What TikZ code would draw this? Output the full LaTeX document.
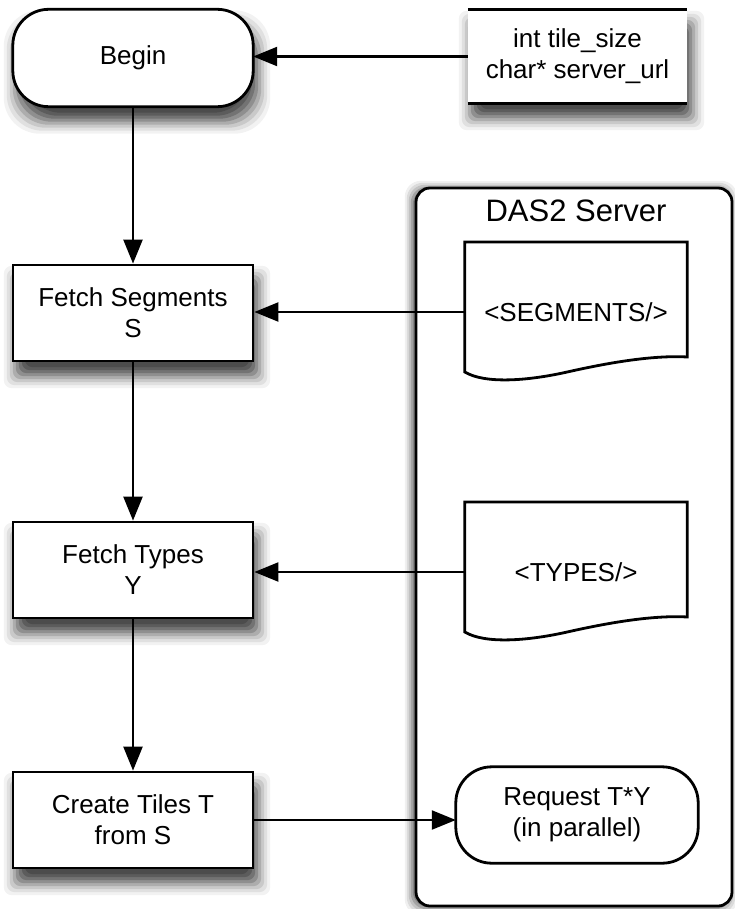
\documentclass[tikz,border=0pt]{standalone}
\usepackage{fontspec}
\setmainfont{Liberation Sans}
\usetikzlibrary{arrows.meta,calc}
\tikzset{
  txt/.style={font=\fontsize{26}{31}\selectfont, align=center},
  procbox/.style={txt, draw, line width=2.8pt, fill=white, minimum width=240pt, minimum height=96pt},
  ghost/.style={txt, draw=none, inner sep=0pt},
  shapeline/.style={line width=2.8pt, fill=white},
  arr/.style={line width=2.3pt, -{Triangle[length=24pt,width=19pt,fill=black]}},
}
% opaque layered shadow under a node: #1 node, #2 x offset, #3 y offset (down), #4 corner radius
\newcommand\mshadow[4]{%
  \foreach \ee/\cc in {13/5,10/12,7/21,4/32,1/44,-2/55,-5/64,-8/70}{%
    \fill[black!\cc, rounded corners=#4]
      ($(#1.north west)+(#2-\ee,#3-\ee)$) rectangle ($(#1.south east)+(#2+\ee,#3+\ee)$);}}
\newcommand\docpath[1]{%
  \path[shapeline,draw]
    (#1.north west) -- (#1.north east) -- ($(#1.north east)+(0,115)$)
    .. controls ($(#1.north east)+(-35,-2+115)$) and ($(#1.north east)+(-80,6+115)$) .. ($(#1.north east)+(-120,15+115)$)
    .. controls ($(#1.north east)+(-160,24+115)$) and ($(#1.north west)+(20,142)$) .. ($(#1.north west)+(0,130)$)
    -- cycle;}
\begin{document}
\begin{tikzpicture}[x=1pt,y=-1pt]
\useasboundingbox (0,0) rectangle (734,909);

% DAS2 server container
\node[minimum width=316pt, minimum height=718pt, inner sep=0pt] (srvarea) at (574,547) {};
\foreach \ee/\cc in {8/6,6/14,4/24,2/36,0/48}{%
  \fill[black!\cc, rounded corners=16pt]
    ($(srvarea.north west)+(-3-\ee,1-\ee)$) rectangle ($(srvarea.south east)+(-3+\ee,1+\ee)$);}
\node[draw, line width=2.8pt, rounded corners=14pt, fill=white,
      minimum width=316pt, minimum height=718pt] (srv) at (574,547) {};
\node[font=\fontsize{31}{36}\selectfont] (srvtitle) at (576,211) {DAS2 Server};

% Begin
\node[ghost, minimum width=240pt, minimum height=97pt] (begin) at (133,58) {};
\mshadow{begin}{4}{14}{36pt}
\path[shapeline,draw,rounded corners=36pt] (begin.north west) rectangle (begin.south east);
\node[txt] (begintxt) at (begin.center) {Begin};

% Input
\node[ghost, minimum width=219pt, minimum height=93pt] (inparea) at (577.5,56.5) {};
\mshadow{inparea}{4}{14}{8pt}
\node[txt, fill=white, minimum width=219pt, minimum height=93pt] (inp) at (577.5,56.5) {int tile\_size\\char* server\_url};
\draw[line width=2.8pt] (inp.north west) -- (inp.north east) (inp.south west) -- (inp.south east);

% process boxes
\node[ghost, minimum width=240pt, minimum height=96pt] (fsarea) at (133,313) {};
\node[ghost, minimum width=240pt, minimum height=96pt] (ftarea) at (133,570) {};
\node[ghost, minimum width=240pt, minimum height=96pt] (ctarea) at (133,820) {};
\mshadow{fsarea}{4}{14}{8pt}
\mshadow{ftarea}{4}{14}{8pt}
\mshadow{ctarea}{4}{14}{8pt}
\node[procbox] (fs) at (133,313) {Fetch Segments\\S};
\node[procbox] (ft) at (133,570) {Fetch Types\\Y};
\node[procbox] (ct) at (133,820) {Create Tiles T\\from S};

% documents
\node[ghost, minimum width=222pt, minimum height=70pt, anchor=north] (segbox) at (576,242) {};
\docpath{segbox}
\node[txt] (seg) at (576,312) {<SEGMENTS/>};
\node[ghost, minimum width=222pt, minimum height=70pt, anchor=north] (typbox) at (576,502) {};
\docpath{typbox}
\node[txt] (typ) at (576,572) {<TYPES/>};

% Request
\node[ghost, minimum width=242pt, minimum height=96pt] (req) at (577,815) {};
\path[shapeline,draw,rounded corners=36pt] (req.north west) rectangle (req.south east);
\node[txt] (reqtxt) at (req.center) {Request T*Y\\(in parallel)};

% connectors
\draw[arr] (inp.west) -- (inp.west -| begin.east);
\draw[arr] (begin.south) -- (fs.north);
\draw[arr] (fs.south) -- (ft.north);
\draw[arr] (ft.south) -- (ct.north);
\draw[arr] (seg.west -| segbox.west) -- (seg.west -| fs.east);
\draw[arr] (typ.west -| typbox.west) -- (typ.west -| ft.east);
\draw[arr] (ct.east) -- (ct.east -| req.west);
\end{tikzpicture}
\end{document}
